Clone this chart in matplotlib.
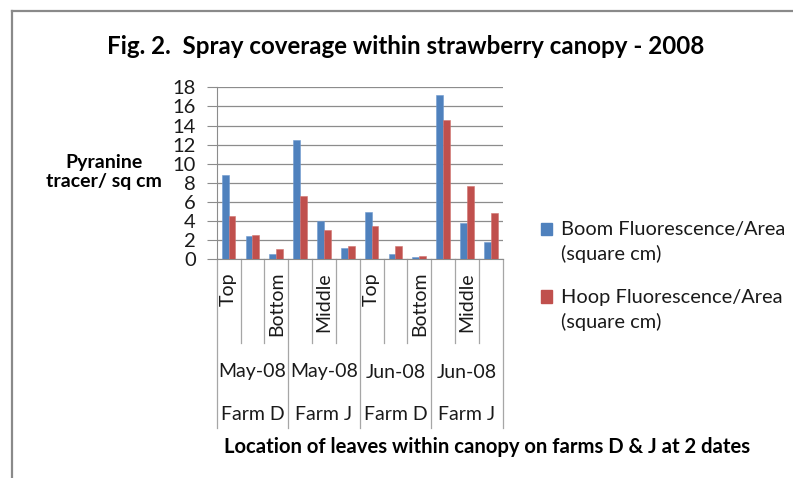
import numpy as np
import matplotlib
matplotlib.use("Agg")
import matplotlib.pyplot as plt
import matplotlib.transforms as mtransforms
from matplotlib.patches import Rectangle
from matplotlib.lines import Line2D
from matplotlib.legend_handler import HandlerPatch

plt.rcParams['font.family'] = ['Lato', 'DejaVu Sans']

# data
locations = ["Top", "Middle", "Bottom"] * 4
dates = ["May-08", "May-08", "Jun-08", "Jun-08"]
farms = ["Farm D", "Farm J", "Farm D", "Farm J"]
boom = [8.8, 2.4, 0.6, 12.5, 4.0, 1.15, 5.0, 0.6, 0.25, 17.2, 3.8, 1.8]
hoop = [4.5, 2.5, 1.05, 6.6, 3.05, 1.4, 3.5, 1.4, 0.35, 14.6, 7.7, 4.8]
series_names = ["Boom Fluorescence/Area\n(square cm)",
                "Hoop Fluorescence/Area\n(square cm)"]
colors = ["#4F81BD", "#C0504D"]

W, H = 793, 478
fig = plt.figure(figsize=(W / 100, H / 100), dpi=100)


def fx(px):
    return px / W


def fy(py):
    return 1 - py / H


# chart frame (gray border running off the right/bottom)
fig.add_artist(Line2D([fx(12), 1], [fy(11), fy(11)], color="#8a8a8a", lw=1.6,
                      transform=fig.transFigure))
fig.add_artist(Line2D([fx(12), fx(12)], [fy(11), 0], color="#8a8a8a", lw=1.6,
                      transform=fig.transFigure))

ax_l, ax_r, ax_t, ax_b = 216.7, 502.7, 87.3, 259.3
ax = fig.add_axes([fx(ax_l), fy(ax_b), fx(ax_r - ax_l), (ax_b - ax_t) / H])

n = len(boom)
x = np.arange(n)
bw = 0.285
ax.bar(x - bw / 2, boom, bw, color=colors[0], edgecolor="#6f9ad0", lw=0.4,
       label=series_names[0], zorder=3)
ax.bar(x + bw / 2, hoop, bw, color=colors[1], edgecolor="#d07370", lw=0.4,
       label=series_names[1], zorder=3)

ax.set_xlim(-0.5, n - 0.5)
ax.set_ylim(0, 18)
ax.set_yticks(np.arange(0, 19, 2))
ax.yaxis.grid(True, color="#8c8c8c", lw=0.9, zorder=0)
ax.set_xticks([])
for s in ["top", "right"]:
    ax.spines[s].set_visible(False)
ax.spines["left"].set_color("#8c8c8c")
ax.spines["bottom"].set_color("#8c8c8c")
ax.tick_params(axis="y", length=7, color="#8c8c8c", labelsize=14.5,
               pad=8, labelcolor="#1a1a1a")

# multi-level category axis
trans = mtransforms.blended_transform_factory(ax.transData, fig.transFigure)
lc = "#a6a6a6"
for b in range(n + 1):
    edge = b - 0.5
    bottom = 428 if b % 3 == 0 else 343
    ax.add_artist(Line2D([edge, edge], [fy(ax_b), fy(bottom)], color=lc,
                         lw=0.9, transform=trans, clip_on=False))
for i, lab in enumerate(locations):
    if i % 2 == 0:
        ax.text(i, fy(272), lab, rotation=90, ha="center", va="top",
                fontsize=14, transform=trans, color="#1a1a1a")
for g in range(len(dates)):
    cx = g * 3 + 1
    ax.text(cx, fy(372), dates[g], ha="center", va="center", fontsize=14,
            transform=trans, color="#1a1a1a")
    ax.text(cx, fy(415), farms[g], ha="center", va="center", fontsize=14,
            transform=trans, color="#1a1a1a")

# titles
fig.text(fx(406), fy(46), "Fig. 2.  Spray coverage within strawberry canopy - 2008",
         ha="center", va="center", fontsize=17.4, fontweight="bold")
fig.text(fx(104), fy(172), "Pyranine\ntracer/ sq cm", ha="center", va="center",
         fontsize=14, fontweight="bold", linespacing=1.15)
fig.text(fx(487), fy(447), "Location of leaves within canopy on farms D & J at 2 dates",
         ha="center", va="center", fontsize=14.6, fontweight="bold")


# legend square sits on the first text line, like Excel
def top_square(legend, orig_handle, xdescent, ydescent, width, height, fontsize):
    return Rectangle((-xdescent, -ydescent + 0.66 * fontsize), width, height)


handles = [Rectangle((0, 0), 1, 1, color=c) for c in colors]
leg = fig.legend(handles, series_names, loc="upper left",
                 bbox_to_anchor=(fx(533), fy(213)), frameon=False, fontsize=14.4,
                 handlelength=0.55, handleheight=0.55, handletextpad=0.45,
                 labelspacing=1.3, labelcolor="#1a1a1a", borderaxespad=0,
                 handler_map={Rectangle: HandlerPatch(patch_func=top_square)})
for t in leg.get_texts():
    t.set_linespacing(1.45)

fig.savefig("out.png", dpi=100)
